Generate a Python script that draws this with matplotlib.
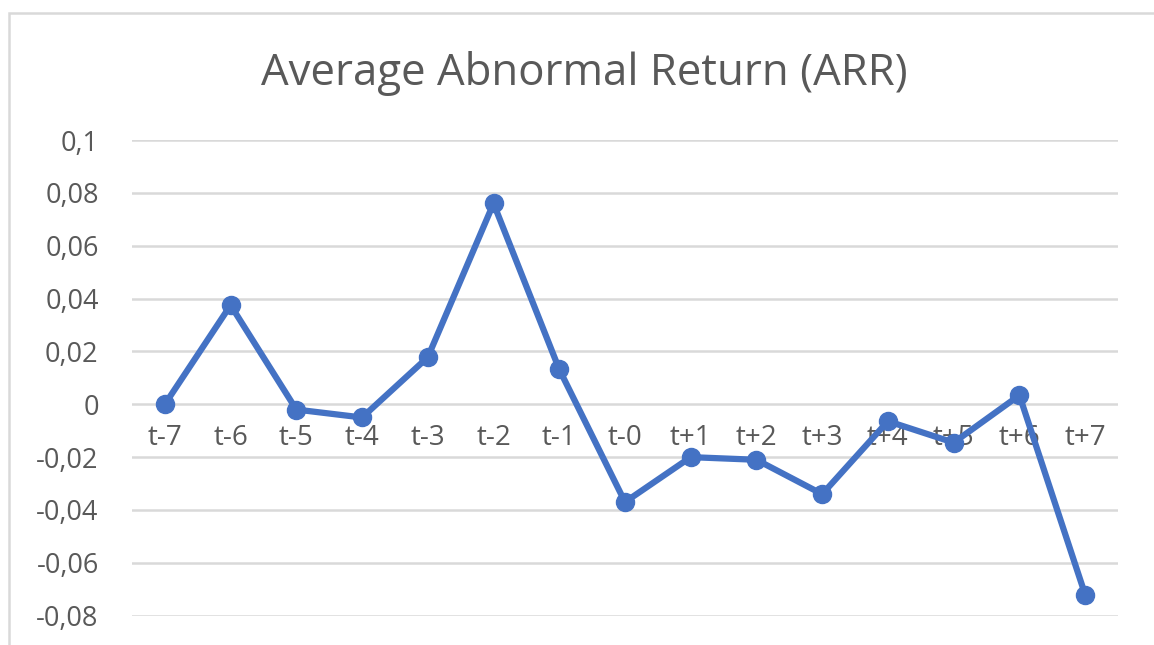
import matplotlib.pyplot as plt
from matplotlib.patches import Rectangle
from matplotlib.ticker import FuncFormatter

plt.rcParams['font.family'] = ['Open Sans', 'DejaVu Sans']

# data
periods = ['t-7', 't-6', 't-5', 't-4', 't-3', 't-2', 't-1', 't-0',
           't+1', 't+2', 't+3', 't+4', 't+5', 't+6', 't+7']
aar = [0.0, 0.0375, -0.002, -0.005, 0.0178, 0.076, 0.0132, -0.037,
       -0.020, -0.021, -0.034, -0.0064, -0.0145, 0.0034, -0.072]
yticks = [-0.08, -0.06, -0.04, -0.02, 0, 0.02, 0.04, 0.06, 0.08, 0.1]

blue = '#4472C4'
grey_text = '#595959'
grid_col = '#D9D9D9'

fig = plt.figure(figsize=(11.54, 6.45), dpi=100)
ax = fig.add_axes([132/1154, 1 - 615.7/645, (1118-132)/1154, (615.7-140)/645])

# chart border (runs off the right and bottom edges)
fig.patches.append(Rectangle((9/1154, -0.2), 1.2, 1.2 - 13/645, transform=fig.transFigure,
                             fill=False, edgecolor=grid_col, linewidth=1.8))

x = list(range(len(periods)))
ax.plot(x, aar, color=blue, linewidth=4.5, marker='o', markersize=13,
        clip_on=False, zorder=3)

ax.set_xlim(-0.5, len(periods) - 0.5)
ax.set_ylim(-0.08, 0.1)
ax.set_yticks(yticks)
ax.yaxis.set_major_formatter(FuncFormatter(
    lambda v, p: '0' if abs(v) < 1e-9 else ('%g' % round(v, 2)).replace('.', ',')))
ax.grid(axis='y', color=grid_col, linewidth=1.8)
ax.set_axisbelow(True)

for s in ['top', 'right', 'left']:
    ax.spines[s].set_visible(False)
ax.spines['bottom'].set_position(('data', 0))
ax.spines['bottom'].set_visible(False)

ax.set_xticks(x)
ax.set_xticklabels(periods)
ax.tick_params(axis='x', length=0, pad=14, labelsize=20, labelcolor=grey_text)
ax.tick_params(axis='y', length=0, pad=24, labelsize=19.5, labelcolor=grey_text)

fig.text(584/1154, 1 - 73/645, 'Average Abnormal Return (ARR)', ha='center', va='center',
         fontsize=31.5, color=grey_text)

fig.savefig('out.png', dpi=100)
